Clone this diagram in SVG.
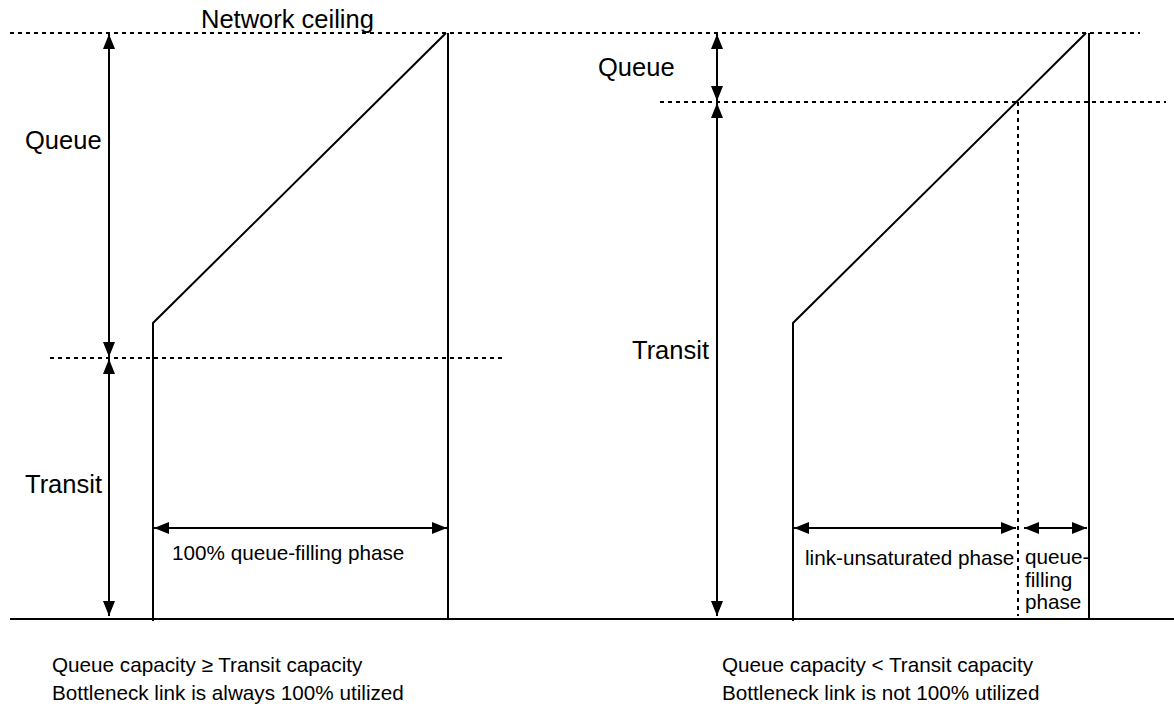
<svg xmlns="http://www.w3.org/2000/svg" width="1174" height="708" viewBox="0 0 1174 708">
<style>
.s{stroke:#000;stroke-width:2;fill:none}
.d{stroke:#000;stroke-width:2;fill:none;stroke-dasharray:4 4}
.a{stroke:#000;stroke-width:2;fill:none;marker-start:url(#ah);marker-end:url(#ah)}
.t{font-family:"Liberation Sans",Arial,sans-serif;fill:#000}
.big{font-size:25.5px}
.mid{font-size:20.7px}
</style>
<defs>
<marker id="ah" markerUnits="userSpaceOnUse" markerWidth="16" markerHeight="12" refX="15" refY="6" orient="auto-start-reverse">
<path d="M0,0 L15,6 L0,12 Z" fill="#000"/>
</marker>
</defs>
<rect width="1174" height="708" fill="#fff"/>
<g id="guides">
<line class="d" x1="10" y1="33" x2="1140" y2="33"/>
<line class="d" x1="50" y1="358" x2="502" y2="358"/>
<line class="d" x1="660" y1="102" x2="1166" y2="102"/>
<line class="d" x1="1018" y1="102" x2="1018" y2="616"/>
<line class="s" x1="10" y1="619" x2="1174" y2="619"/>
</g>
<g id="left-curve">
<polyline class="s" points="153,621 153,323 446,33"/>
<line class="s" x1="448" y1="33" x2="448" y2="619"/>
</g>
<g id="right-curve">
<polyline class="s" points="793,621 793,323 1086,33"/>
<line class="s" x1="1089" y1="33" x2="1089" y2="619"/>
</g>
<g id="connectors">
<line class="a" x1="109" y1="34" x2="109" y2="357"/>
<line class="a" x1="109" y1="359" x2="109" y2="616"/>
<line class="a" x1="717" y1="34" x2="717" y2="101"/>
<line class="a" x1="717" y1="103" x2="717" y2="616"/>
<line class="a" x1="154" y1="528" x2="447" y2="528"/>
<line class="a" x1="794" y1="528" x2="1016" y2="528"/>
<line class="a" x1="1024" y1="528" x2="1087" y2="528"/>
</g>
<g id="labels">
<text class="t big" x="201" y="28">Network ceiling</text>
<text class="t big" x="25" y="149">Queue</text>
<text class="t big" x="25" y="493">Transit</text>
<text class="t big" x="598" y="76">Queue</text>
<text class="t big" x="632" y="359">Transit</text>
<text class="t mid" x="172" y="560">100% queue-filling phase</text>
<text class="t mid" x="805" y="565">link-unsaturated phase</text>
<text class="t mid" x="1025" y="564">queue-</text>
<text class="t mid" x="1025" y="587">filling</text>
<text class="t mid" x="1025" y="609">phase</text>
<text class="t mid" x="52" y="672">Queue capacity ≥ Transit capacity</text>
<text class="t mid" x="52" y="700">Bottleneck link is always 100% utilized</text>
<text class="t mid" x="722" y="672">Queue capacity &lt; Transit capacity</text>
<text class="t mid" x="722" y="700">Bottleneck link is not 100% utilized</text>
</g>
</svg>
